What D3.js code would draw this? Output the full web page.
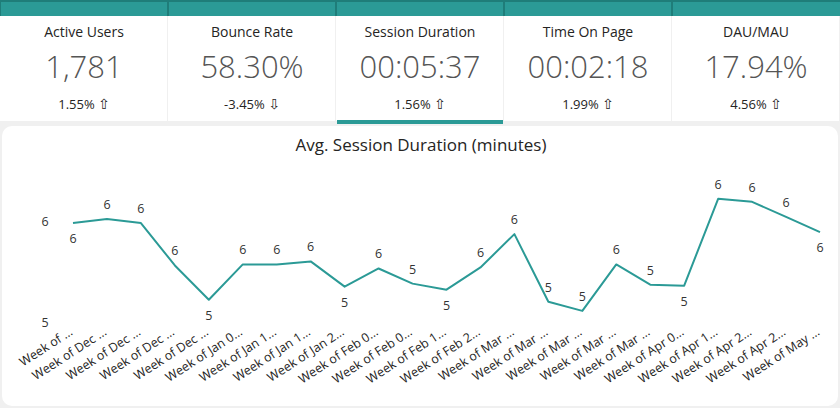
<!DOCTYPE html>
<html>
<head>
<meta charset="utf-8">
<script src="https://cdn.jsdelivr.net/npm/d3@7"></script>
<style>
  body { margin: 0; background: #f0f0f0; }
  svg { display: block; font-family: "Segoe UI", "Open Sans", "Noto Sans", sans-serif; }
</style>
</head>
<body>
<div id="chart"></div>
<script>
// KPI cards
var kpiTitles = ["Active Users", "Bounce Rate", "Session Duration", "Time On Page", "DAU/MAU"];
var kpiValues = ["1,781", "58.30%", "00:05:37", "00:02:18", "17.94%"];
var kpiDeltas = ["1.55%", "-3.45%", "1.56%", "1.99%", "4.56%"];
var kpiUp = [true, false, true, true, true];
var selectedCard = 2;

// line chart
var weeks = ["Week of ...", "Week of Dec ...", "Week of Dec ...", "Week of Dec ...", "Week of Dec ...",
  "Week of Jan 0...", "Week of Jan 1...", "Week of Jan 1...", "Week of Jan 2...", "Week of Feb 0...",
  "Week of Feb 0...", "Week of Feb 1...", "Week of Feb 2...", "Week of Mar ...", "Week of Mar ...",
  "Week of Mar ...", "Week of Mar ...", "Week of Mar ...", "Week of Apr 0...", "Week of Apr 1...",
  "Week of Apr 2...", "Week of Apr 2...", "Week of May ..."];
var avgMinutes = [5.98, 6.02, 5.98, 5.56, 5.22, 5.57, 5.57, 5.60, 5.35, 5.53, 5.38, 5.32,
  5.54, 5.87, 5.20, 5.11, 5.57, 5.37, 5.36, 6.22, 6.19, 6.04, 5.89];
// data labels drawn under the point instead of over it
var labelBelow = [0, 4, 8, 11, 18, 22];
var yTicks = [5, 6];

drawDashboard("#chart");

function drawDashboard(sel) {
  var width = 840, height = 408;
  var teal = "#2b9a96";
  var svg = d3.select(sel).append("svg")
    .attr("width", width)
    .attr("height", height);

  svg.append("rect").attr("width", width).attr("height", height).attr("fill", "#f0f0f0");

  /* KPI cards */
  var cardX = d3.scaleBand().domain(d3.range(kpiTitles.length)).range([0, width]);
  var cards = svg.selectAll(".card")
    .data(kpiTitles)
    .enter()
    .append("g")
    .attr("class", "card")
    .attr("transform", function(d, i) { return "translate(" + cardX(i) + ",0)"; });

  cards.append("rect")
    .attr("x", 0).attr("y", 0)
    .attr("width", cardX.bandwidth() - 1)
    .attr("height", 121)
    .attr("fill", "#fff");

  // teal header strip
  cards.append("rect")
    .attr("x", 0).attr("y", 0)
    .attr("width", cardX.bandwidth())
    .attr("height", 16)
    .attr("fill", teal);
  cards.append("rect")
    .attr("x", 0).attr("y", 0)
    .attr("width", cardX.bandwidth())
    .attr("height", 2)
    .attr("fill", "#1f7d79");
  cards.append("rect")
    .attr("x", -1).attr("y", 0)
    .attr("width", 2)
    .attr("height", 16)
    .attr("fill", "#1f7d79");

  cards.append("text")
    .attr("x", cardX.bandwidth() / 2)
    .attr("y", 37)
    .attr("text-anchor", "middle")
    .attr("font-size", 14)
    .attr("fill", "#252423")
    .text(function(d) { return d; });

  cards.append("text")
    .attr("x", cardX.bandwidth() / 2)
    .attr("y", 78)
    .attr("text-anchor", "middle")
    .attr("font-size", 31)
    .attr("font-weight", 300)
    .attr("fill", "#555")
    .text(function(d, i) { return kpiValues[i]; });

  var delta = cards.append("text")
    .attr("x", cardX.bandwidth() / 2)
    .attr("y", 109)
    .attr("text-anchor", "middle")
    .attr("font-size", 13)
    .attr("fill", "#252423");
  delta.append("tspan").text(function(d, i) { return kpiDeltas[i] + " "; });
  delta.append("tspan")
    .attr("font-family", "DejaVu Sans")
    .attr("font-size", 14)
    .text(function(d, i) { return kpiUp[i] ? "\u21E7" : "\u21E9"; });

  // selected card underline
  svg.append("rect")
    .attr("x", cardX(selectedCard) + 1)
    .attr("y", 120)
    .attr("width", cardX.bandwidth() - 2)
    .attr("height", 4)
    .attr("fill", teal);

  /* line chart panel */
  svg.append("rect")
    .attr("x", 2).attr("y", 126)
    .attr("width", 836).attr("height", 280)
    .attr("rx", 10)
    .attr("fill", "#fff");

  svg.append("text")
    .attr("x", 421)
    .attr("y", 151)
    .attr("text-anchor", "middle")
    .attr("font-size", 17)
    .attr("fill", "#252423")
    .text("Avg. Session Duration (minutes)");

  var xScale = d3.scalePoint()
    .domain(d3.range(weeks.length))
    .range([73, 820]);

  var yScale = d3.scaleLinear()
    .domain([5, 6])
    .range([322, 221]);

  // y axis: labels only
  var yAxis = d3.axisLeft(yScale).tickValues(yTicks).tickSize(0).tickFormat(d3.format("d"));
  var gy = svg.append("g")
    .attr("transform", "translate(45,0)")
    .call(yAxis);
  gy.select(".domain").remove();
  gy.selectAll("text")
    .attr("x", 0)
    .attr("text-anchor", "middle")
    .attr("font-size", 12.5)
    .attr("font-family", "Segoe UI, Open Sans, sans-serif")
    .attr("fill", "#333");

  // x axis: rotated, truncated labels
  var xAxis = d3.axisBottom(xScale).tickSize(0).tickFormat(function(i) { return weeks[i]; });
  var gx = svg.append("g")
    .attr("transform", "translate(0,330)")
    .call(xAxis);
  gx.select(".domain").remove();
  gx.selectAll("text")
    .attr("x", 0).attr("y", 0).attr("dy", 0)
    .attr("text-anchor", "end")
    .attr("transform", "translate(0,4) rotate(-33)")
    .attr("font-size", 12.5)
    .attr("font-family", "Segoe UI, Open Sans, sans-serif")
    .attr("fill", "#252423");

  var line = d3.line()
    .x(function(d, i) { return xScale(i); })
    .y(function(d) { return yScale(d); });

  svg.append("path")
    .datum(avgMinutes)
    .attr("d", line)
    .attr("fill", "none")
    .attr("stroke", teal)
    .attr("stroke-width", 2)
    .attr("stroke-linejoin", "round");

  svg.selectAll(".dataLabel")
    .data(avgMinutes)
    .enter()
    .append("text")
    .attr("class", "dataLabel")
    .attr("x", function(d, i) { return xScale(i); })
    .attr("y", function(d, i) {
      return labelBelow.indexOf(i) >= 0 ? yScale(d) + 20 : yScale(d) - 10;
    })
    .attr("text-anchor", "middle")
    .attr("font-size", 12.5)
    .attr("fill", "#333")
    .text(function(d) { return d3.format(".0f")(d); });
}
</script>
</body>
</html>
